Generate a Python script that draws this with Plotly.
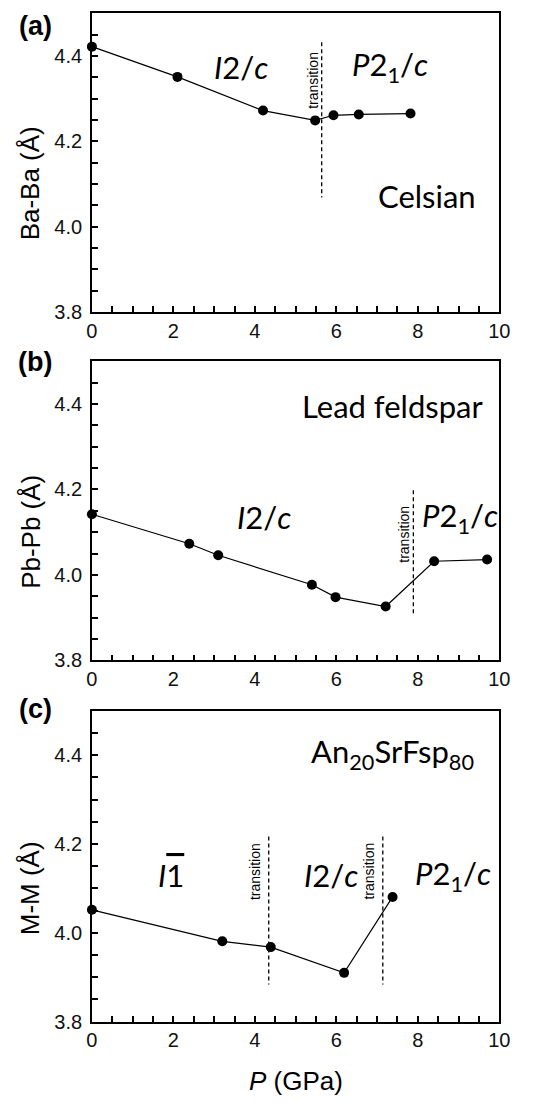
import plotly.graph_objects as go

W, H = 542, 1103

# ---- data ----
p_a = [0.0, 2.1, 4.2, 5.48, 5.93, 6.55, 7.82]
d_a = [4.422, 4.351, 4.272, 4.249, 4.261, 4.263, 4.265]
trans_a = [5.64]

p_b = [0.0, 2.39, 3.10, 5.40, 5.98, 7.21, 8.40, 9.70]
d_b = [4.142, 4.073, 4.046, 3.977, 3.948, 3.926, 4.032, 4.036]
trans_b = [7.89]

p_c = [0.0, 3.20, 4.39, 6.19, 7.38]
d_c = [4.052, 3.981, 3.968, 3.910, 4.081]
trans_c = [4.34, 7.14]

panel_titles = ["Ba-Ba (Å)", "Pb-Pb (Å)", "M-M (Å)"]
panel_tags = ["(a)", "(b)", "(c)"]
materials = ["Celsian", "Lead feldspar", "An<sub>20</sub>SrFsp<sub>80</sub>"]

def fy(px):
    return 1 - px / H

x_dom = [88.7 / W, 509.3 / W]
panels = [(13.5, 315.0), (365.0, 667.0), (718.0, 1032.0)]

fig = go.Figure()

datasets = [(p_a, d_a), (p_b, d_b), (p_c, d_c)]
for i, (px_, dy_) in enumerate(datasets):
    ax = "" if i == 0 else str(i + 1)
    fig.add_trace(go.Scatter(
        x=px_, y=dy_, mode="lines+markers",
        line=dict(color="black", width=1.2),
        marker=dict(color="black", size=10),
        xaxis="x" + ax, yaxis="y" + ax, showlegend=False, hoverinfo="skip",
        cliponaxis=False))

trans_spans = [(trans_a, 4.432, 4.068), (trans_b, 4.198, 3.91), (trans_c, 4.217, 3.884)]
for i, (xs, y0, y1) in enumerate(trans_spans):
    ax = "" if i == 0 else str(i + 1)
    for xv in xs:
        fig.add_trace(go.Scatter(
            x=[xv, xv], y=[y0, y1], mode="lines",
            line=dict(color="black", width=1.3, dash="4px,3px"),
            xaxis="x" + ax, yaxis="y" + ax, showlegend=False, hoverinfo="skip"))

axcol = "black"
tickfont = dict(family="Liberation Sans, Arial", size=20, color="#111")
layout = dict(width=W, height=H, margin=dict(l=0, r=0, t=0, b=0),
              paper_bgcolor="white", plot_bgcolor="white", showlegend=False)

for i, (top, bot) in enumerate(panels):
    sfx = "" if i == 0 else str(i + 1)
    layout["xaxis" + sfx] = dict(
        domain=x_dom, anchor="y" + sfx, range=[0, 10], tickmode="linear", dtick=2, tick0=0,
        showline=True, linecolor=axcol, linewidth=1.5, mirror=True,
        ticks="inside", ticklen=6, tickwidth=1.5, tickcolor=axcol,
        minor=dict(dtick=0.5, tick0=0, ticks="inside", ticklen=6, tickwidth=1.5,
                   tickcolor=axcol, showgrid=False),
        showgrid=False, zeroline=False, tickfont=tickfont)
    layout["yaxis" + sfx] = dict(
        domain=[fy(bot), fy(top)], anchor="x" + sfx, range=[3.8, 4.5],
        tickmode="linear", dtick=0.2, tick0=3.8, tickformat=".1f",
        showline=True, linecolor=axcol, linewidth=1.5, mirror=True,
        ticks="inside", ticklen=6, tickwidth=1.5, tickcolor=axcol,
        minor=dict(dtick=0.05, tick0=3.8, ticks="inside", ticklen=6, tickwidth=1.5,
                   tickcolor=axcol, showgrid=False),
        ticklabelstandoff=4,
        showgrid=False, zeroline=False, tickfont=tickfont)

fig.update_layout(**layout)

ann = []
lab_font = dict(family="Lato, Noto Sans", size=31, color="black")
tr_font = dict(family="Liberation Sans, Arial", size=14, color="black")

def add_text(i, x, y, text, font, angle=0):
    sfx = "" if i == 0 else str(i + 1)
    ann.append(dict(x=x, y=y, xref="x" + sfx, yref="y" + sfx, text=text, showarrow=False,
                    font=font, textangle=angle, xanchor="center", yanchor="middle"))

I2c = "<i>I</i>2/<i>c</i>"
P21c = "<i>P</i>2<sub>1</sub>/<i>c</i>"
I1 = "<i>I</i><span style='text-decoration:overline'>1</span>"

add_text(0, 3.67, 4.375, I2c, lab_font)
add_text(0, 7.32, 4.375, P21c, lab_font)
add_text(0, 8.22, 4.072, materials[0], lab_font)
add_text(0, 5.43, 4.342, "transition", tr_font, -90)
add_text(1, 4.23, 4.135, I2c, lab_font)
add_text(1, 9.03, 4.135, P21c, lab_font)
add_text(1, 7.38, 4.395, materials[1], lab_font)
add_text(1, 7.67, 4.095, "transition", tr_font, -90)
add_text(2, 1.93, 4.13, I1, lab_font)
add_text(2, 5.88, 4.13, I2c, lab_font)
add_text(2, 8.87, 4.13, P21c, lab_font)
add_text(2, 7.38, 4.405, materials[2], lab_font)
add_text(2, 4.00, 4.139, "transition", tr_font, -90)
add_text(2, 6.81, 4.139, "transition", tr_font, -90)

title_font = dict(family="Liberation Sans, Arial", size=26, color="black")
ycent = [185.0, 537.0, 897.0]
for i in range(3):
    ann.append(dict(x=25 / W, y=fy(ycent[i]), xref="paper", yref="paper", text=panel_titles[i],
                    showarrow=False, textangle=-90, font=title_font,
                    xanchor="center", yanchor="middle"))

tag_font = dict(family="Liberation Sans, Arial", size=27, color="black")
tag_y = [26.0, 366.0, 716.0]
for i in range(3):
    ann.append(dict(x=30 / W, y=fy(tag_y[i]), xref="paper", yref="paper",
                    text="<b>" + panel_tags[i] + "</b>",
                    showarrow=False, font=tag_font, xanchor="center", yanchor="middle"))

ann.append(dict(x=299 / W, y=fy(1092.0), xref="paper", yref="paper", text="<i>P</i> (GPa)",
                showarrow=False, font=title_font, xanchor="center", yanchor="middle"))

fig.update_layout(annotations=ann)
fig.write_html("out.html")
